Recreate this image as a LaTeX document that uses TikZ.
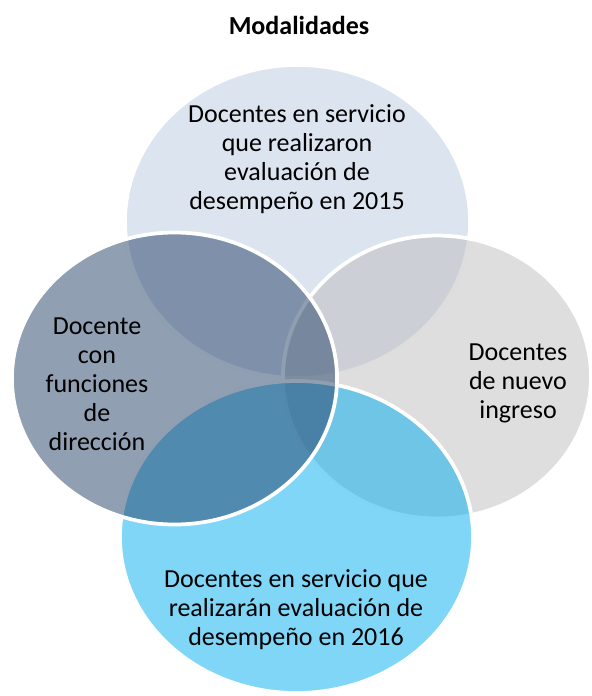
\documentclass[tikz,border=0pt]{standalone}
\usepackage{fontspec}
\setmainfont{Carlito}
\definecolor{topfill}{RGB}{185,201,225}
\definecolor{rightfill}{RGB}{189,189,189}
\definecolor{bottomfill}{RGB}{1,173,239}
\definecolor{leftfill}{RGB}{35,63,101}
\tikzset{
	venn/.style={draw=white, line width=2.8pt, fill opacity=0.5},
	vtext/.style={align=center, text=black, font=\fontsize{19.5}{21.75}\selectfont},
}
\begin{document}
\begin{tikzpicture}[x=0.75pt, y=-0.75pt]
				\useasboundingbox (0,0) rectangle (592,696);
				\coordinate (T) at (297.5,221.5);
				\coordinate (R) at (437,377);
				\coordinate (B) at (296.5,537);
				\coordinate (L) at (174.5,378.5);
				\draw [venn, fill=topfill] (T) ellipse [x radius=129.4pt, y radius=117.4pt];
				\draw [venn, fill=rightfill] (R) ellipse [x radius=115.5pt, y radius=106.1pt];
				\draw [venn, fill=bottomfill] (B) ellipse [x radius=132.4pt, y radius=117pt];
				\draw [venn, fill=leftfill] (L) ellipse [x radius=121.9pt, y radius=109.5pt];
				\node [vtext, font=\fontsize{19.5}{21.75}\selectfont\bfseries] (title) at (299,25) {Modalidades};
				\node [vtext] (txtT) at (297,159) {Docentes en servicio\\que realizaron\\evaluación de\\desempeño en 2015};
				\node [vtext] (txtL) at (97,384) {Docente\\con\\funciones\\de\\dirección};
				\node [vtext] (txtR) at (518,383) {Docentes\\de nuevo\\ingreso};
				\node [vtext] (txtB) at (296,610) {Docentes en servicio que\\realizarán evaluación de\\desempeño en 2016};
\end{tikzpicture}
\end{document}
